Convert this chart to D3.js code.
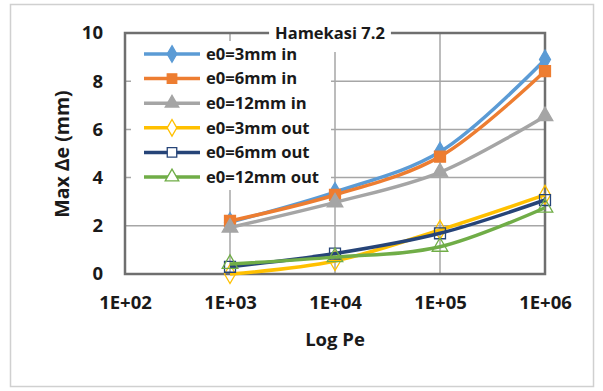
<!DOCTYPE html>
<html>
<head>
<meta charset="utf-8">
<script src="https://cdn.jsdelivr.net/npm/d3@7"></script>
<style>
  body { margin: 0; background: #fff; }
  text { font-family: "Open Sans", sans-serif; font-weight: bold; fill: #1a1a1a; }
</style>
</head>
<body>
<svg id="chart" width="603" height="391"></svg>
<script>
/* data */
var pe = [1e3, 1e4, 1e5, 1e6];
var xTicks = [1e2, 1e3, 1e4, 1e5, 1e6];
var yTicks = [0, 2, 4, 6, 8, 10];
var names = ['e0=3mm in', 'e0=6mm in', 'e0=12mm in', 'e0=3mm out', 'e0=6mm out', 'e0=12mm out'];
var in3 = [2.15, 3.4, 5.07, 8.9];
var in6 = [2.2, 3.28, 4.87, 8.42];
var in12 = [1.93, 2.97, 4.22, 6.55];
var out3 = [0.0, 0.54, 1.83, 3.28];
var out6 = [0.3, 0.85, 1.69, 3.07];
var out12 = [0.42, 0.7, 1.13, 2.75];

var colors = ['#5B9BD5', '#ED7D31', '#A5A5A5', '#FFC000', '#264478', '#70AD47'];
var shapes = [d3.symbolDiamond, d3.symbolSquare, d3.symbolTriangle, d3.symbolDiamond, d3.symbolSquare, d3.symbolTriangle];
var filled = [true, true, true, false, false, false];

var series = [in3, in6, in12, out3, out6, out12].map(function (vals, i) {
  return {
    name: names[i], color: colors[i], shape: shapes[i], filled: filled[i],
    points: vals.map(function (v, j) { return { x: pe[j], y: v }; })
  };
});

var svg = d3.select('#chart');

// outer chart border
svg.append('rect')
  .attr('x', 10.5).attr('y', 4.5).attr('width', 583).attr('height', 382)
  .attr('fill', '#fff').attr('stroke', '#d0d0d0').attr('stroke-width', 1.5);

var x = d3.scaleLog().domain([1e2, 1e6]).range([125, 545]);
var y = d3.scaleLinear().domain([0, 10]).range([274, 33]);

// gridlines
svg.append('g').selectAll('line').data(yTicks.slice(1, -1)).enter().append('line')
  .attr('x1', 125).attr('x2', 545)
  .attr('y1', function (d) { return y(d); }).attr('y2', function (d) { return y(d); })
  .attr('stroke', '#a6a6a6').attr('stroke-width', 1.5);
svg.append('g').selectAll('line').data(xTicks.slice(1, -1)).enter().append('line')
  .attr('y1', 33).attr('y2', 274)
  .attr('x1', function (d) { return x(d); }).attr('x2', function (d) { return x(d); })
  .attr('stroke', '#a6a6a6').attr('stroke-width', 1.5);

// plot frame
svg.append('rect')
  .attr('x', 125).attr('y', 33).attr('width', 420).attr('height', 241)
  .attr('fill', 'none').attr('stroke', '#6f6f6f').attr('stroke-width', 2.5);

// title sitting on top border
var title = svg.append('text')
  .attr('x', 330).attr('y', 39)
  .attr('text-anchor', 'middle')
  .style('font-size', '16.5px')
  .text('Hamekasi 7.2');
var tb = title.node().getBBox();
svg.insert('rect', 'text')
  .attr('x', tb.x - 6).attr('y', 24).attr('width', tb.width + 12).attr('height', 28)
  .attr('fill', '#fff');

// legend
var legend = svg.append('g');
legend.append('rect')
  .attr('x', 131).attr('y', 41).attr('width', 200).attr('height', 149)
  .attr('fill', '#fff');
var items = legend.selectAll('g.item').data(series).enter().append('g')
  .attr('class', 'item')
  .attr('transform', function (d, i) { return 'translate(0,' + (54 + i * 24.6) + ')'; });
items.append('line')
  .attr('x1', 144).attr('x2', 200)
  .attr('stroke', function (d) { return d.color; }).attr('stroke-width', 3.5);
items.append('path')
  .attr('transform', 'translate(172,0)')
  .attr('d', function (d) { return d3.symbol().type(d.shape).size(d.shape === d3.symbolSquare ? 90 : 80)(); })
  .attr('fill', function (d) { return d.filled ? d.color : '#fff'; })
  .attr('stroke', function (d) { return d.color; }).attr('stroke-width', 1.3);
items.append('text')
  .attr('x', 206).attr('dy', '0.35em')
  .style('font-size', '16.6px')
  .text(function (d) { return d.name; });

// series
var line = d3.line()
  .x(function (d) { return x(d.x); })
  .y(function (d) { return y(d.y); })
  .curve(d3.curveCatmullRom.alpha(0.5));

var sg = svg.append('g').selectAll('g').data(series).enter().append('g');
sg.append('path')
  .attr('d', function (d) { return line(d.points); })
  .attr('fill', 'none')
  .attr('stroke', function (d) { return d.color; })
  .attr('stroke-width', 3.5);
sg.selectAll('path.mk').data(function (d) {
    return d.points.map(function (p) { return { p: p, s: d }; });
  }).enter().append('path')
  .attr('class', 'mk')
  .attr('transform', function (d) { return 'translate(' + x(d.p.x) + ',' + y(d.p.y) + ')'; })
  .attr('d', function (d) { return d3.symbol().type(d.s.shape).size(d.s.shape === d3.symbolSquare ? 120 : 105)(); })
  .attr('fill', function (d) { return d.s.filled ? d.s.color : 'none'; })
  .attr('stroke', function (d) { return d.s.color; })
  .attr('stroke-width', 1.3);

// axes
var xAxis = svg.append('g')
  .attr('transform', 'translate(0,274)')
  .call(d3.axisBottom(x).tickValues(xTicks).tickSize(0).tickPadding(22)
    .tickFormat(function (d) { return '1E+0' + Math.round(Math.log10(d)); }));
xAxis.select('.domain').remove();
xAxis.selectAll('text').style('font-size', '18.5px').style('font-family', '"Open Sans", sans-serif').attr('fill', '#1a1a1a');

var yAxis = svg.append('g')
  .attr('transform', 'translate(125,0)')
  .call(d3.axisLeft(y).tickValues(yTicks).tickSize(0).tickPadding(22));
yAxis.select('.domain').remove();
yAxis.selectAll('text').style('font-size', '18.5px').style('font-family', '"Open Sans", sans-serif').attr('fill', '#1a1a1a');

// axis titles
svg.append('text')
  .attr('x', 335).attr('y', 346)
  .attr('text-anchor', 'middle')
  .style('font-size', '18.5px')
  .text('Log Pe');
svg.append('text')
  .attr('transform', 'translate(69,154) rotate(-90)')
  .attr('text-anchor', 'middle')
  .style('font-size', '19.5px')
  .text('Max Δe (mm)');
</script>
</body>
</html>
